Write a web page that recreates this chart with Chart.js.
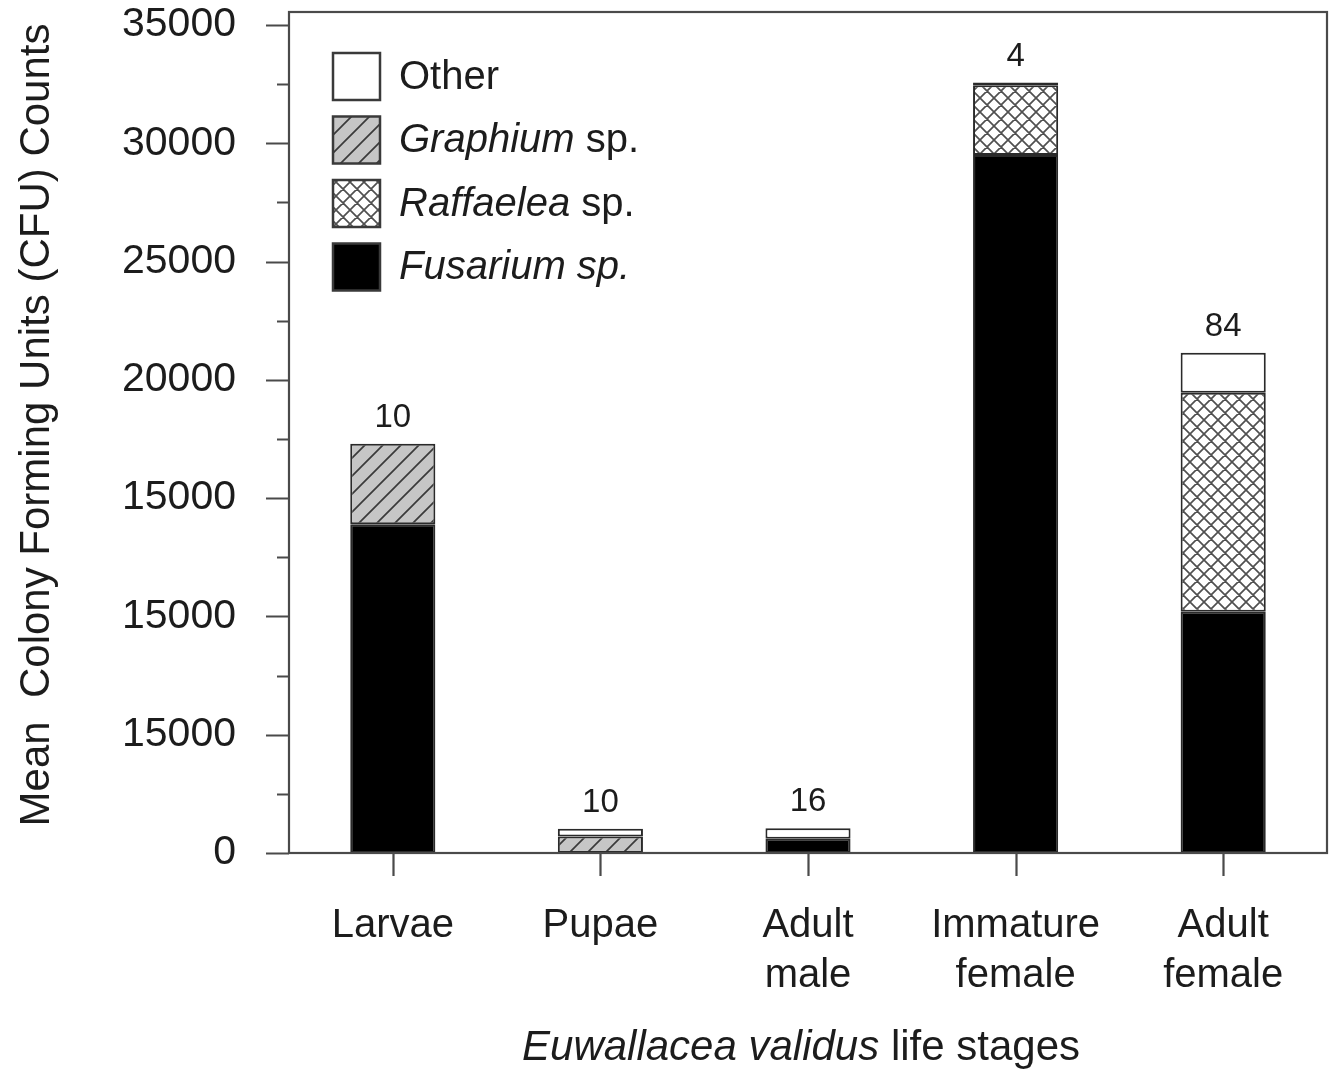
<!DOCTYPE html>
<html>
<head>
<meta charset="utf-8">
<script src="https://cdn.jsdelivr.net/npm/chart.js@4.4.1/dist/chart.umd.min.js"></script>
<style>
  body { margin: 0; background: #fff; }
  canvas { display: block; }
</style>
</head>
<body>
<canvas id="myChart" width="1332" height="1074"></canvas>
<script>
// life stages on the x axis
const stages = [['Larvae'], ['Pupae'], ['Adult', 'male'], ['Immature', 'female'], ['Adult', 'female']];
// mean CFU per fungus
const fusarium  = [13900, 0, 600, 29500, 10200];
const graphium  = [3400, 700, 0, 0, 0];
const raffaelea = [0, 0, 0, 2950, 9250];
const other     = [0, 320, 450, 120, 1700];
// sample sizes printed above the bars
const sampleN = ['10', '10', '16', '4', '84'];
// y tick labels as printed in the figure (at 0, 5000, 10000 ... 35000)
const yTickValues = [0, 5000, 10000, 15000, 20000, 25000, 30000, 35000];
const yTickLabels = ['0', '15000', '15000', '15000', '20000', '25000', '30000', '35000'];

const FONT = '"Liberation Sans", Arial, sans-serif';
const INK = '#1c1c1c';
const EDGE = '#2a2a2a';

function hatch(bg, line, size, both) {
  const c = document.createElement('canvas');
  c.width = size; c.height = size;
  const g = c.getContext('2d');
  g.fillStyle = bg;
  g.fillRect(0, 0, size, size);
  g.strokeStyle = line;
  g.lineWidth = 1.7;
  g.beginPath();
  g.moveTo(0, size); g.lineTo(size, 0);
  g.moveTo(-2, 2); g.lineTo(2, -2);
  g.moveTo(size - 2, size + 2); g.lineTo(size + 2, size - 2);
  if (both) {
    g.moveTo(0, 0); g.lineTo(size, size);
    g.moveTo(-2, size - 2); g.lineTo(2, size + 2);
    g.moveTo(size - 2, -2); g.lineTo(size + 2, 2);
  }
  g.stroke();
  return g.createPattern(c, 'repeat');
}

const ctx = document.getElementById('myChart').getContext('2d');
const graphiumFill = hatch('#c6c6c6', '#3a3a3a', 18, false);
const raffaeleaFill = hatch('#ffffff', '#505050', 14, true);

const nz = arr => arr.map(v => (v === 0 ? null : v));

const legendItems = [
  { fill: '#ffffff', parts: [['Other', false]] },
  { fill: graphiumFill, parts: [['Graphium', true], [' sp.', false]] },
  { fill: raffaeleaFill, parts: [['Raffaelea', true], [' sp.', false]] },
  { fill: '#000000', parts: [['Fusarium sp.', true]] }
];

const decorations = {
  id: 'decorations',
  afterDraw(chart) {
    const { ctx, chartArea: a, scales } = chart;
    const y = scales.y, x = scales.x;
    ctx.save();
    // frame
    ctx.strokeStyle = '#4a4a4a';
    ctx.lineWidth = 2.2;
    ctx.strokeRect(a.left, a.top, a.right - a.left, a.bottom - a.top);
    // y ticks (major + minor)
    ctx.beginPath();
    for (let v = 0; v <= 35000; v += 2500) {
      const py = Math.round(y.getPixelForValue(v)) + 0.5;
      const len = v % 5000 === 0 ? 23 : 12;
      ctx.moveTo(a.left - len, py); ctx.lineTo(a.left, py);
    }
    // x ticks
    for (let i = 0; i < stages.length; i++) {
      const px = Math.round(x.getPixelForValue(i)) + 0.5;
      ctx.moveTo(px, a.bottom); ctx.lineTo(px, a.bottom + 23);
    }
    ctx.stroke();

    // sample sizes above stacks
    ctx.fillStyle = INK;
    ctx.font = `33px ${FONT}`;
    ctx.textAlign = 'center';
    ctx.textBaseline = 'middle';
    for (let i = 0; i < stages.length; i++) {
      const total = fusarium[i] + graphium[i] + raffaelea[i] + other[i];
      ctx.fillText(sampleN[i], x.getPixelForValue(i), y.getPixelForValue(total) - 26);
    }

    // legend
    ctx.textAlign = 'left';
    legendItems.forEach((it, k) => {
      const bx = 333, by = 53 + k * 63.5, s = 47;
      ctx.fillStyle = it.fill;
      ctx.fillRect(bx, by, s, s);
      ctx.strokeStyle = '#3a3a3a';
      ctx.lineWidth = 2.5;
      ctx.strokeRect(bx, by, s, s);
      let tx = 399;
      ctx.fillStyle = INK;
      it.parts.forEach(([t, ital]) => {
        ctx.font = `${ital ? 'italic ' : ''}40px ${FONT}`;
        ctx.fillText(t, tx, by + s / 2 + 1);
        tx += ctx.measureText(t).width;
      });
    });

    // x title with italic species name
    const xt = [['Euwallacea validus', true], [' life stages', false]];
    ctx.font = `italic 42px ${FONT}`;
    let w = ctx.measureText(xt[0][0]).width;
    ctx.font = `42px ${FONT}`;
    w += ctx.measureText(xt[1][0]).width;
    let tx = 801 - w / 2;
    xt.forEach(([t, ital]) => {
      ctx.font = `${ital ? 'italic ' : ''}42px ${FONT}`;
      ctx.fillText(t, tx, 1048);
      tx += ctx.measureText(t).width;
    });

    // y title
    ctx.translate(37, 425);
    ctx.rotate(-Math.PI / 2);
    ctx.textAlign = 'center';
    ctx.font = `42px ${FONT}`;
    ctx.fillText('Mean  Colony Forming Units (CFU) Counts', 0, 0);
    ctx.restore();
  }
};

const barStyle = { borderColor: EDGE, borderWidth: 2, borderSkipped: false, barPercentage: 0.41, categoryPercentage: 1 };

new Chart(ctx, {
  type: 'bar',
  data: {
    labels: stages,
    datasets: [
      { label: 'Fusarium sp.', data: nz(fusarium), backgroundColor: '#000000', ...barStyle },
      { label: 'Graphium sp.', data: nz(graphium), backgroundColor: graphiumFill, ...barStyle },
      { label: 'Raffaelea sp.', data: nz(raffaelea), backgroundColor: raffaeleaFill, ...barStyle },
      { label: 'Other', data: nz(other), backgroundColor: '#ffffff', ...barStyle }
    ]
  },
  options: {
    responsive: false,
    animation: false,
    layout: { padding: { top: 12, right: 5, left: 0, bottom: 0 } },
    plugins: { legend: { display: false }, tooltip: { enabled: false } },
    scales: {
      x: {
        stacked: true,
        grid: { display: false },
        border: { display: false },
        ticks: { color: INK, font: { family: FONT, size: 40, lineHeight: 1.25 }, padding: 40, maxRotation: 0 },
        afterFit(s) { s.height = 221; }
      },
      y: {
        stacked: true,
        min: 0,
        max: 35550,
        bounds: 'data',
        grid: { display: false },
        border: { display: false },
        afterBuildTicks(s) { s.ticks = yTickValues.map(v => ({ value: v })); },
        afterFit(s) { s.width = 289; s.paddingTop = 0; s.paddingBottom = 0; },
        ticks: {
          autoSkip: false,
          color: INK,
          padding: 45,
          font: { family: FONT, size: 41 },
          callback: (v, i) => yTickLabels[i]
        }
      }
    }
  },
  plugins: [decorations]
});
</script>
</body>
</html>
